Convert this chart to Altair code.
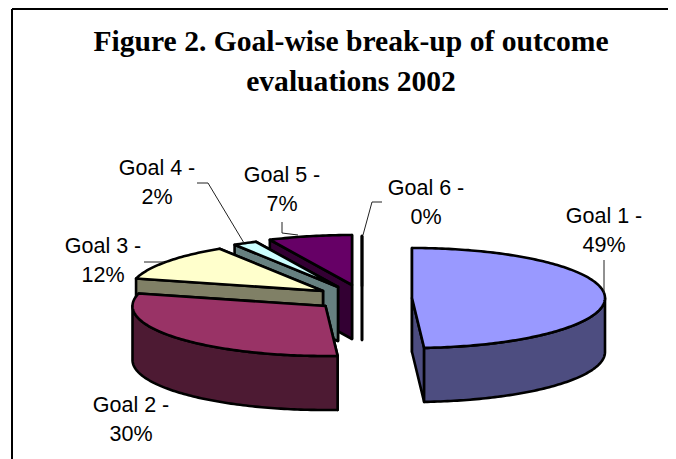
import math
import altair as alt

# ---- values ----
goals = ["Goal 1", "Goal 2", "Goal 3", "Goal 4", "Goal 5", "Goal 6"]
shares = [49, 30, 12, 2, 7, 0]
top_fills = ["#9999FF", "#993366", "#FFFFCC", "#CCFFFF", "#660066", "#FF8080"]
side_fills = ["#4D4D80", "#4D1A33", "#808066", "#668080", "#330033", "#804040"]
title_lines = ["Figure 2. Goal-wise break-up of outcome", "evaluations 2002"]

# ---- layout (page pixels) ----
PAD_L, PAD_T = 4, 1
OX, OY = 8 + PAD_L, 8 + PAD_T
W, H = 656, 450
RX, RY, DEPTH = 193, 50, 54
exploded_x = [412, 325.5, 323, 338, 352, 362]
exploded_y = [298, 306, 291, 287, 285, 286]
label_x = [604, 131, 103, 157, 282, 426]
label_y = [217, 406, 247, 169, 176, 189]
leaders = [
    [(604, 260), (604, 293)],
    [],
    [(144, 262), (164, 262)],
    [(197, 183), (208, 183), (244, 243)],
    [(282, 222), (282, 233), (298, 235)],
    [(382, 202), (372, 202), (363, 235)],
]


def rim(i, deg, drop=0):
    a = math.radians(deg)
    return [exploded_x[i] + RX * math.sin(a), exploded_y[i] - RY * math.cos(a) + drop]


def feature(name, fill, pts):
    return {
        "type": "Feature",
        "properties": {"name": name, "fill": fill},
        "geometry": {"type": "Polygon", "coordinates": [pts + [pts[0]]]},
    }


def arc_angles(a0, a1):
    n = max(2, int(abs(a1 - a0)) + 2)
    return [a0 + (a1 - a0) * k / (n - 1) for k in range(n)]


starts, running = [], 0.0
for s in shares:
    starts.append(running)
    running += s * 3.6

features = []
for i in reversed(range(len(goals))):
    a0, a1 = starts[i], starts[i] + shares[i] * 3.6
    c = [exploded_x[i], exploded_y[i]]
    cd = [c[0], c[1] + DEPTH]
    # cut faces, the one further back first
    for ang in sorted((a0, a1), key=lambda t: -math.cos(math.radians(t))):
        features.append(feature(goals[i], side_fills[i],
                                [rim(i, ang), c, cd, rim(i, ang, DEPTH)]))
    # outer wall (front half only)
    lo, hi = max(a0, 90), min(a1, 270)
    if hi > lo:
        angs = arc_angles(lo, hi)
        features.append(feature(goals[i], side_fills[i],
                                [rim(i, t) for t in angs] +
                                [rim(i, t, DEPTH) for t in reversed(angs)]))
    # top face
    features.append(feature(goals[i], top_fills[i],
                            [c] + [rim(i, t) for t in arc_angles(a0, a1)]))

geo_data = alt.InlineData(
    values={"type": "FeatureCollection", "features": features},
    format=alt.DataFormat(property="features", type="json"),
)

xs = alt.Scale(domain=[OX, OX + W], range=[0, W])
ys = alt.Scale(domain=[OY, OY + H], range=[0, H])
X = lambda f: alt.X(f, type="quantitative", scale=xs, axis=None)
Y = lambda f: alt.Y(f, type="quantitative", scale=ys, axis=None)

pie = alt.Chart(geo_data).mark_geoshape(
    stroke="black", strokeWidth=2.6, strokeJoin="round"
).encode(
    fill=alt.Fill("properties.fill:N", scale=None)
).project(type="identity", reflectY=False, scale=1, translate=[-OX, -OY])

leader_rows = [
    {"goal": goals[i], "k": k, "px": p[0], "py": p[1]}
    for i, path in enumerate(leaders) for k, p in enumerate(path)
]
leader_layer = alt.Chart(alt.Data(values=leader_rows)).mark_line(
    color="#222222", strokeWidth=1
).encode(x=X("px"), y=Y("py"), detail="goal:N", order="k:Q")

label_rows = [
    {"text": f"{g} -\n{s}%", "lx": label_x[i], "ly": label_y[i]}
    for i, (g, s) in enumerate(zip(goals, shares))
]
labels = alt.Chart(alt.Data(values=label_rows)).mark_text(
    font="Liberation Sans", fontSize=21.5, color="black", align="center",
    baseline="middle", lineBreak="\n", lineHeight=28.5
).encode(x=X("lx"), y=Y("ly"), text="text:N")

frame_rows = [
    {"x0": OX, "x1": OX + W, "y0": OY, "y1": OY},
    {"x0": OX, "x1": OX, "y0": OY, "y1": OY + H},
]
frame = alt.Chart(alt.Data(values=frame_rows)).mark_rule(
    color="black", strokeWidth=2
).encode(x=X("x0"), x2="x1:Q", y=Y("y0"), y2="y1:Q")

chart = alt.layer(frame, pie, leader_layer, labels).properties(
    width=W, height=H,
    padding={"left": PAD_L, "top": PAD_T, "right": 0, "bottom": 0},
    autosize=alt.AutoSizeParams(type="none"),
    title=alt.TitleParams(
        text=title_lines, font="Liberation Serif", fontWeight="bold", fontSize=29.6,
        color="black", anchor="middle", frame="group", offset=0, dx=11, dy=113,
        baseline="alphabetic", lineHeight=40,
    ),
).configure_view(stroke=None).configure(background="white")

chart.save("out.html", embed_options={"renderer": "svg", "actions": False})
